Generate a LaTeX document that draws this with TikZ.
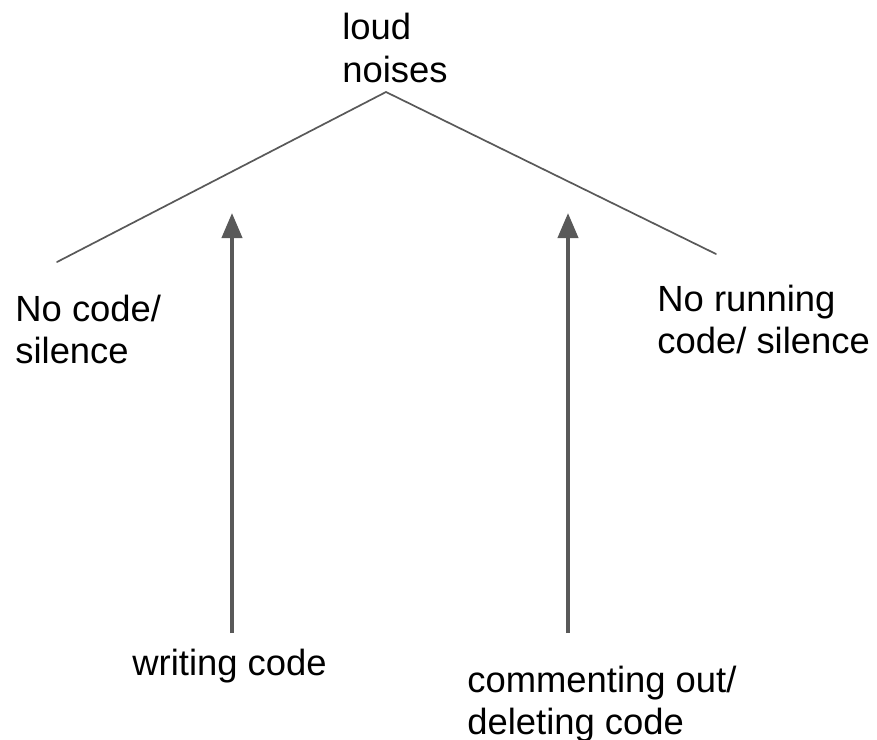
\documentclass[tikz,border=0pt]{standalone}
\usepackage{fontspec}
\setmainfont{Liberation Sans}
\usepackage{xcolor}
\usetikzlibrary{arrows.meta}
\definecolor{bg}{HTML}{FFFFFF}
\definecolor{text}{HTML}{000000}
\definecolor{ink}{HTML}{595959}
\tikzset{
  branch/.style={draw=ink, line width=0.85pt, line cap=round},
  push/.style={draw=ink, line width=2pt, -{Triangle[length=12.5pt,width=10pt]}},
  lab/.style={text=text, font=\fontsize{18.2pt}{21pt}\selectfont, align=left, inner sep=0pt, anchor=base west},
}
\begin{document}
\begin{tikzpicture}[x=0.5pt,y=-0.5pt]
  \useasboundingbox[fill=bg] (0,0) rectangle (877,739);
  % labels (placed by the baseline of their last line)
  \node[lab] (top) at (342,82) {loud\\noises};
  \node[lab] (left) at (15,363) {No code/\\silence};
  \node[lab] (right) at (657,353) {No running\\code/ silence};
  \node[lab] (write) at (132,675) {writing code};
  \node[lab] (del) at (467,734) {commenting out/\\deleting code};
  % branches
  \coordinate (apex) at (386,92);
  \coordinate (L) at (57,262);
  \coordinate (R) at (716,254);
  \draw[branch] (L) -- (apex) -- (R);
  % arrows
  \coordinate (w0) at (232,633);
  \coordinate (w1) at (232,213);
  \coordinate (d0) at (568,633);
  \coordinate (d1) at (568,213);
  \draw[push] (w0) -- (w1);
  \draw[push] (d0) -- (d1);
\end{tikzpicture}
\end{document}
